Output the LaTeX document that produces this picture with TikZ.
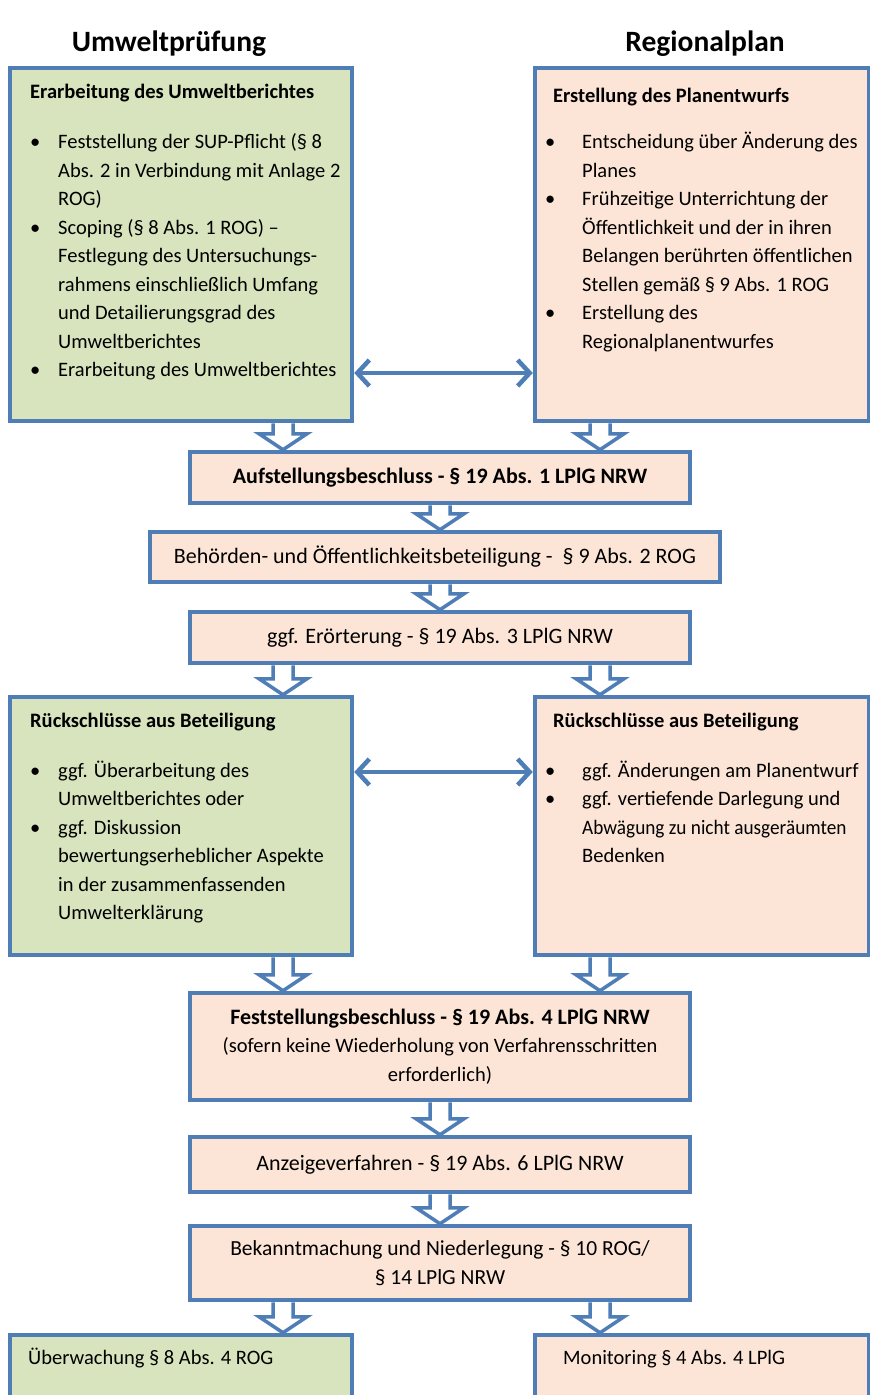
\documentclass[tikz,border=0pt]{standalone}
\usepackage{fontspec}
\setmainfont{Carlito}
\usetikzlibrary{arrows.meta}
\usetikzlibrary{calc, backgrounds}

\definecolor{frameblue}{RGB}{79,125,182}
\definecolor{umweltgreen}{RGB}{215,228,189}
\definecolor{planpeach}{RGB}{252,229,214}

\tikzset{
  greenbox/.style={draw=frameblue, line width=4.5pt, fill=umweltgreen, inner sep=0pt},
  peachbox/.style={draw=frameblue, line width=4.5pt, fill=planpeach, inner sep=0pt, align=center},
  stepbox/.style={peachbox, minimum width=500, font=\fontsize{22}{28.5}\selectfont},
  boxtext/.style={anchor=north west, inner sep=0pt},
  headline/.style={font=\fontsize{29.5}{32}\selectfont\bfseries},
  hollowarrow/.style={draw=frameblue, line width=3.5pt, fill=white, line join=miter},
  linkarrow/.style={draw=frameblue, line width=4.5pt, line cap=round,
    {Straight Barb[length=12pt,width=26pt]}-{Straight Barb[length=12pt,width=26pt]}}
}

% hollow block arrow from #2 down to #3 in column #1
\newcommand{\flowdown}[3]{%
  \path (#1 |- #2.south) coordinate (fa) (#1 |- #3.north) coordinate (fb);
  \draw[hollowarrow] ($(fa)+(-10,0)$) -- ($(fb)+(-10,-16)$) -- ($(fb)+(-24,-16)$) -- (fb)
    -- ($(fb)+(24,-16)$) -- ($(fb)+(10,-16)$) -- ($(fa)+(10,0)$);
}
\newcommand{\smallrow}{\fontsize{20.5}{28.5}\selectfont}

\begin{document}
\begin{tikzpicture}[x=1pt, y=-1pt, font=\fontsize{20.5}{28.5}\selectfont]
          \useasboundingbox (0,0) rectangle (870,1395);
          \clip (0,0) rectangle (870,1395);

          \coordinate (colL) at (283,0);
          \coordinate (colM) at (440,0);
          \coordinate (colR) at (600,0);
          \coordinate (row1) at (0,373);
          \coordinate (row2) at (0,772);

          % column heads
          \node [headline] (hdrL) at (169,44) {Umweltprüfung};
          \node [headline] (hdrR) at (705,44) {Regionalplan};

          % first row
          \node [greenbox, minimum width=342, minimum height=353] (ub1) at (181,244.5) {};
          \node [peachbox, minimum width=334, minimum height=353] (rp1) at (702,244.5) {};
          \node [boxtext] (ub1t) at (30,78) {%
            \begin{tabular}{@{}p{28pt}@{}l@{}}
              \multicolumn{2}{@{}l@{}}{\bfseries Erarbeitung des Umweltberichtes}\\[22pt]
              \textbullet & Feststellung der SUP-Pflicht (§ 8\\
                          & Abs. 2 in Verbindung mit Anlage 2\\
                          & ROG)\\
              \textbullet & Scoping (§ 8 Abs. 1 ROG) –\\
                          & Festlegung des Untersuchungs-\\
                          & rahmens einschließlich Umfang\\
                          & und Detailierungsgrad des\\
                          & Umweltberichtes\\
              \textbullet & Erarbeitung des Umweltberichtes
            \end{tabular}};
          \node [boxtext] (rp1t) at (545,82) {%
            \begin{tabular}{@{}p{37pt}@{}l@{}}
              \multicolumn{2}{@{}l@{}}{\hspace*{8pt}\bfseries Erstellung des Planentwurfs}\\[18pt]
              \textbullet & Entscheidung über Änderung des\\
                          & Planes\\
              \textbullet & Frühzeitige Unterrichtung der\\
                          & Öffentlichkeit und der in ihren\\
                          & Belangen berührten öffentlichen\\
                          & Stellen gemäß § 9 Abs. 1 ROG\\
              \textbullet & Erstellung des\\
                          & Regionalplanentwurfes
            \end{tabular}};

          % common steps
          \node [stepbox, minimum height=51, font=\fontsize{22}{28.5}\selectfont\bfseries] (aufst) at (440,477.5) {Aufstellungsbeschluss - § 19 Abs. 1 LPlG NRW};
          \node [stepbox, minimum width=570, minimum height=50] (beteil) at (435,557) {Behörden- und Öffentlichkeitsbeteiligung -\ \ § 9 Abs. 2 ROG};
          \node [stepbox, minimum height=51] (eroert) at (440,637.5) {ggf. Erörterung - § 19 Abs. 3 LPlG NRW};

          % second row
          \node [greenbox, minimum width=342, minimum height=258] (ub2) at (181,826) {};
          \node [peachbox, minimum width=334, minimum height=258] (rp2) at (702,826) {};
          \node [boxtext] (ub2t) at (30,707) {%
            \begin{tabular}{@{}p{28pt}@{}l@{}}
              \multicolumn{2}{@{}l@{}}{\bfseries Rückschlüsse aus Beteiligung}\\[21.5pt]
              \textbullet & ggf. Überarbeitung des\\
                          & Umweltberichtes oder\\
              \textbullet & ggf. Diskussion\\
                          & bewertungserheblicher Aspekte\\
                          & in der zusammenfassenden\\
                          & Umwelterklärung
            \end{tabular}};
          \node [boxtext] (rp2t) at (545,707) {%
            \begin{tabular}{@{}p{37pt}@{}l@{}}
              \multicolumn{2}{@{}l@{}}{\hspace*{8pt}\bfseries Rückschlüsse aus Beteiligung}\\[21.5pt]
              \textbullet & ggf. Änderungen am Planentwurf\\
              \textbullet & ggf. vertiefende Darlegung und\\
                          & \scalebox{0.94}[1]{Abwägung zu nicht ausgeräumten}\\
                          & Bedenken
            \end{tabular}};

          \node [stepbox, minimum height=107] (festst) at (440,1046.5) {{\bfseries Feststellungsbeschluss - § 19 Abs. 4 LPlG NRW}\\{\smallrow (sofern keine Wiederholung von Verfahrensschritten}\\{\smallrow erforderlich)}};
          \node [stepbox, minimum height=55] (anzeige) at (440,1164.5) {Anzeigeverfahren - § 19 Abs. 6 LPlG NRW};
          \node [stepbox, minimum height=74, font=\fontsize{21.5}{28.5}\selectfont] (bekannt) at (440,1263) {Bekanntmachung und Niederlegung - § 10 ROG/\\§ 14 LPlG NRW};

          % last row (cut off at the bottom)
          \node [greenbox, minimum width=342, minimum height=95] (ub3) at (181,1382.5) {};
          \node [peachbox, minimum width=334, minimum height=95] (rp3) at (702,1382.5) {};
          \node [anchor=base west, inner sep=0pt] (ub3t) at (28,1364) {Überwachung § 8 Abs. 4 ROG};
          \node [anchor=base west, inner sep=0pt] (rp3t) at (563,1364) {Monitoring § 4 Abs. 4 LPlG};

          % links between the two columns
          \draw [linkarrow] (ub1.east |- row1) -- (rp1.west |- row1);
          \draw [linkarrow] (ub2.east |- row2) -- (rp2.west |- row2);

          \begin{scope}[on background layer]
            \flowdown{colL}{ub1}{aufst}
            \flowdown{colR}{rp1}{aufst}
            \flowdown{colM}{aufst}{beteil}
            \flowdown{colM}{beteil}{eroert}
            \flowdown{colL}{eroert}{ub2}
            \flowdown{colR}{eroert}{rp2}
            \flowdown{colL}{ub2}{festst}
            \flowdown{colR}{rp2}{festst}
            \flowdown{colM}{festst}{anzeige}
            \flowdown{colM}{anzeige}{bekannt}
            \flowdown{colL}{bekannt}{ub3}
            \flowdown{colR}{bekannt}{rp3}
          \end{scope}
        \end{tikzpicture}
\end{document}
